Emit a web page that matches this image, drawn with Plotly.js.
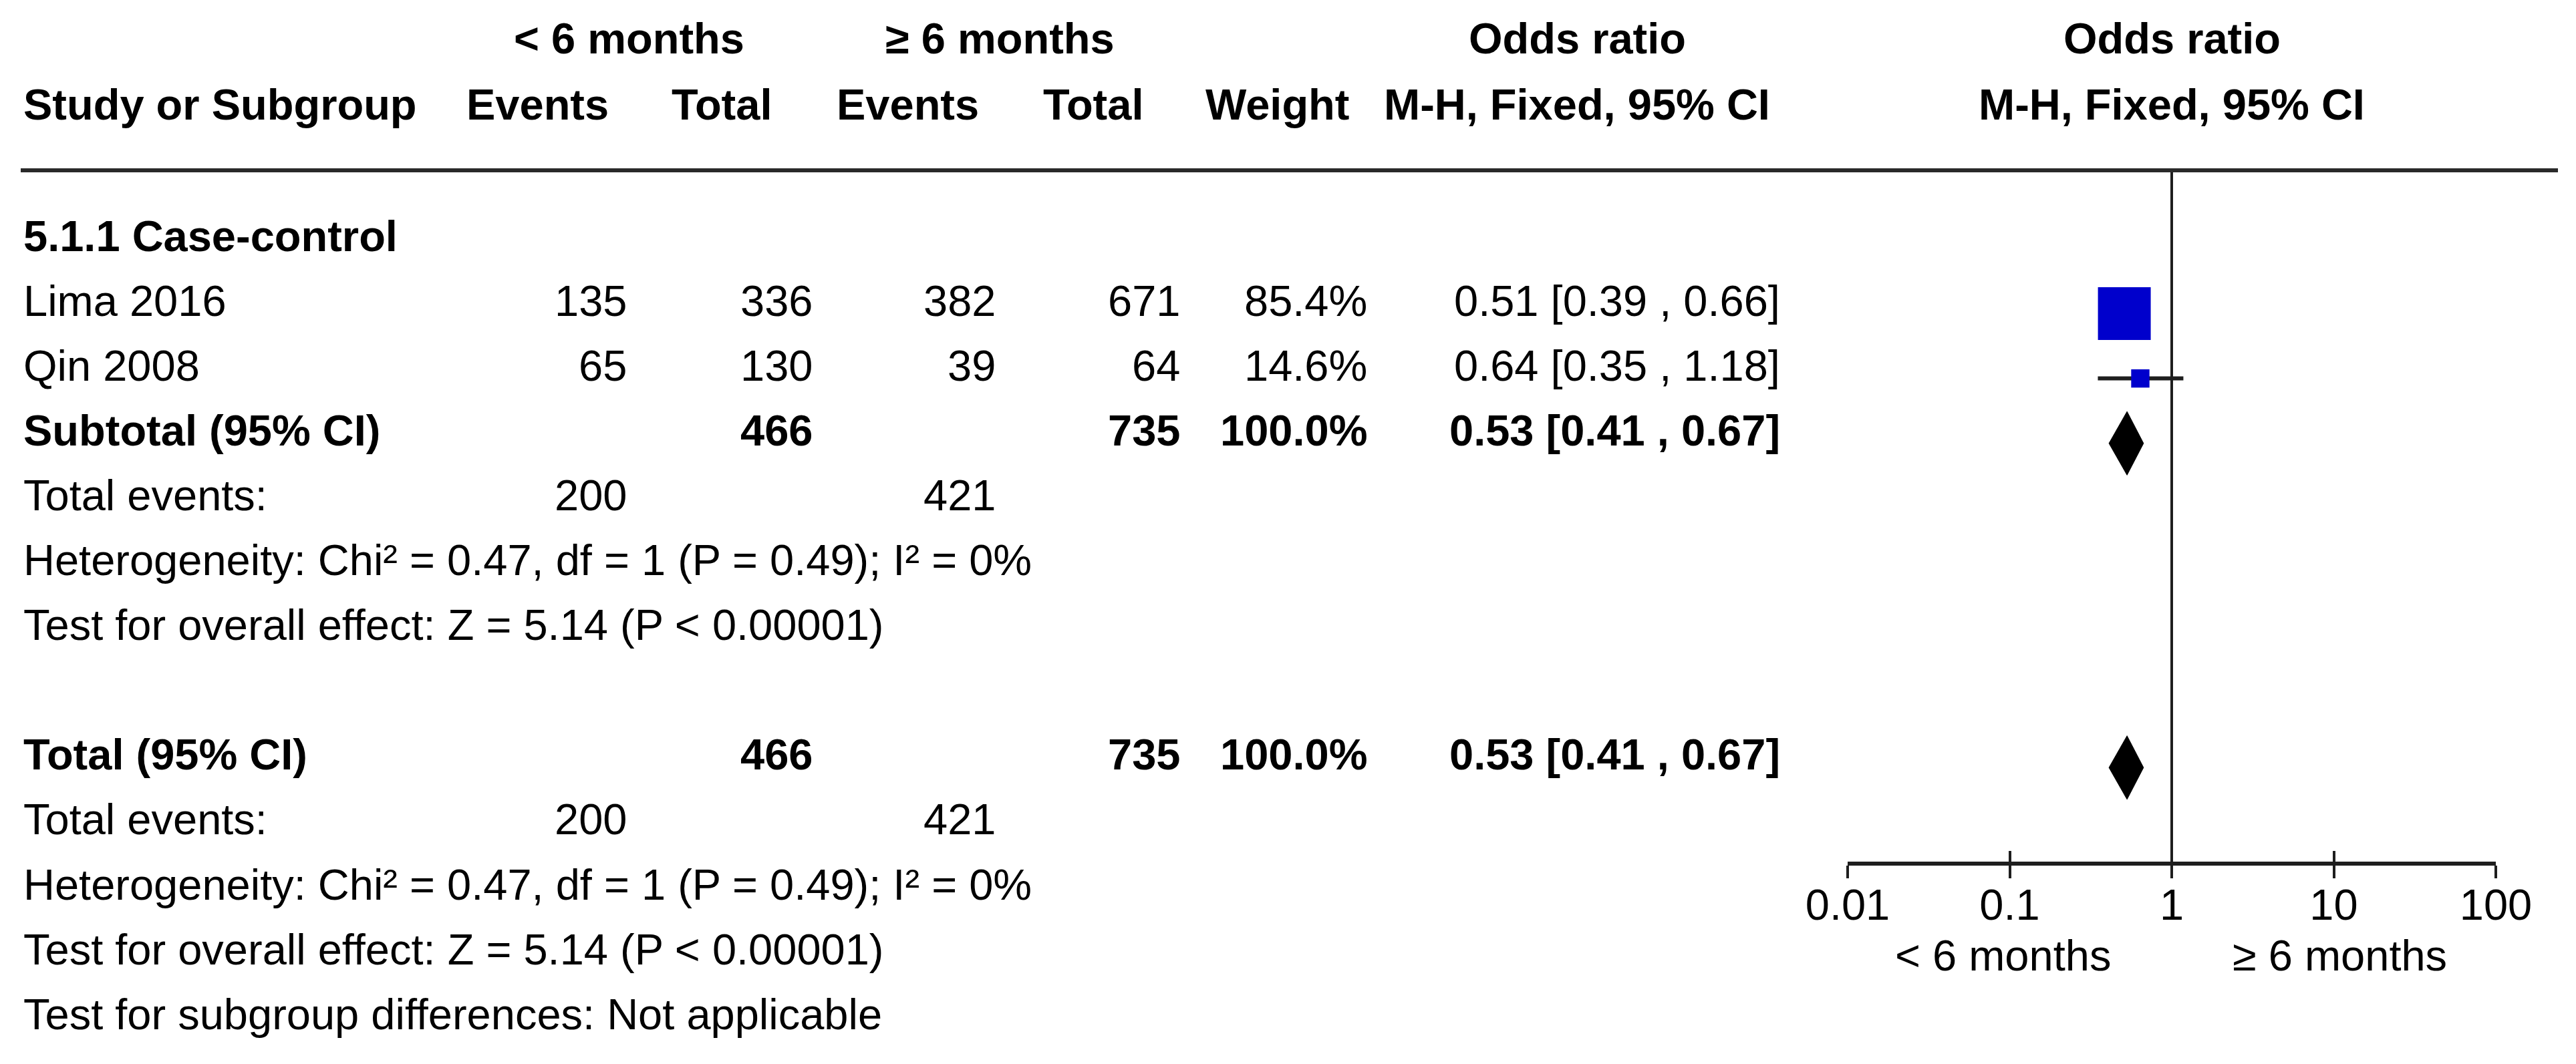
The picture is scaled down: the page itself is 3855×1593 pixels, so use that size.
<!DOCTYPE html>
<html>
<head>
<meta charset="utf-8">
<script src="https://cdn.plot.ly/plotly-3.0.1.min.js"></script>
<style>html,body{margin:0;padding:0;background:#fff;}#chart{width:3855px;height:1593px;}</style>
</head>
<body>
<div id="chart"></div>
<script>
// ---------- data ----------
const studies = ['Lima 2016', 'Qin 2008'];
const eventsLt6 = [135, 65];
const totalLt6 = [336, 130];
const eventsGe6 = [382, 39];
const totalGe6 = [671, 64];
const weights = [85.4, 14.6];
const orEst = [0.51, 0.64];
const orLow = [0.39, 0.35];
const orHigh = [0.66, 1.18];

const subgroupName = ['5.1.1 Case-control'];
const pooledEst = [0.53];
const pooledLow = [0.41];
const pooledHigh = [0.67];
const pooledWeight = [100.0];
const sumTotalLt6 = [466];
const sumTotalGe6 = [735];
const sumEventsLt6 = [200];
const sumEventsGe6 = [421];
const heterogeneityText = ['Heterogeneity: Chi² = 0.47, df = 1 (P = 0.49); I² = 0%'];
const overallEffectText = ['Test for overall effect: Z = 5.14 (P < 0.00001)'];
const subgroupDiffText = ['Test for subgroup differences: Not applicable'];

const groupLabels = ['< 6 months', '≥ 6 months'];
const tickValues = [0.01, 0.1, 1, 10, 100];
const tickLabels = ['0.01', '0.1', '1', '10', '100'];

// ---------- layout constants ----------
const W = 3855, H = 1593;
const rowY0 = 353, rowStep = 97.1;          // pixel centre of row 0 and row spacing
const kTop = -rowY0 / rowStep, kBottom = (H - rowY0) / rowStep;
const pxToK = px => (px - rowY0) / rowStep;
const FONT = 'Liberation Sans, Arial, Helvetica, sans-serif';
const FS = 65;
const markOff = 0.2;                         // marks sit slightly below text centre
const axisPx = 1293;
const kAxis = pxToK(axisPx);
const kLine = pxToK(255);
const textShift = 0.0;

const col = {
  name: 33 / W, ev1: 940 / W, tot1: 1218 / W, ev2: 1492 / W, tot2: 1768 / W,
  weight: 2048 / W, orText: 2666 / W,
  hEv1: 804 / W, hTot1: 1080 / W, hEv2: 1358 / W, hTot2: 1636 / W, hWeight: 1911 / W,
  hOr: 2360 / W, hPlot: 3250 / W, g1: 941 / W, g2: 1496 / W
};

const fmtOR = (e, l, h) => e.toFixed(2) + ' [' + l.toFixed(2) + ' , ' + h.toFixed(2) + ']';
const ann = [];
function txt(s, x, k, anchor, bold) {
  ann.push({
    text: bold ? '<b>' + s + '</b>' : s, x: x, xref: 'paper', y: k + textShift, yref: 'y',
    xanchor: anchor, yanchor: 'middle', showarrow: false,
    font: { family: FONT, size: FS, color: '#000' }
  });
}

// header rows
txt(groupLabels[0], col.g1, -3.04, 'center', true);
txt(groupLabels[1], col.g2, -3.04, 'center', true);
txt('Odds ratio', col.hOr, -3.04, 'center', true);
txt('Odds ratio', col.hPlot, -3.04, 'center', true);
txt('Study or Subgroup', col.name, -2.02, 'left', true);
txt('Events', col.hEv1, -2.02, 'center', true);
txt('Total', col.hTot1, -2.02, 'center', true);
txt('Events', col.hEv2, -2.02, 'center', true);
txt('Total', col.hTot2, -2.02, 'center', true);
txt('Weight', col.hWeight, -2.02, 'center', true);
txt('M-H, Fixed, 95% CI', col.hOr, -2.02, 'center', true);
txt('M-H, Fixed, 95% CI', col.hPlot, -2.02, 'center', true);

// subgroup block
txt(subgroupName[0], col.name, 0, 'left', true);
const studyRows = studies.map((s, i) => 1 + i);
studies.forEach((s, i) => {
  const k = studyRows[i];
  txt(s, col.name, k, 'left', false);
  txt(String(eventsLt6[i]), col.ev1, k, 'right', false);
  txt(String(totalLt6[i]), col.tot1, k, 'right', false);
  txt(String(eventsGe6[i]), col.ev2, k, 'right', false);
  txt(String(totalGe6[i]), col.tot2, k, 'right', false);
  txt(weights[i].toFixed(1) + '%', col.weight, k, 'right', false);
  txt(fmtOR(orEst[i], orLow[i], orHigh[i]), col.orText, k, 'right', false);
});
const summaryRows = [studies.length + 1, studies.length + 6];   // subtotal, total
const summaryNames = ['Subtotal (95% CI)', 'Total (95% CI)'];
summaryRows.forEach((k, j) => {
  txt(summaryNames[j], col.name, k, 'left', true);
  txt(String(sumTotalLt6[0]), col.tot1, k, 'right', true);
  txt(String(sumTotalGe6[0]), col.tot2, k, 'right', true);
  txt(pooledWeight[0].toFixed(1) + '%', col.weight, k, 'right', true);
  txt(fmtOR(pooledEst[0], pooledLow[0], pooledHigh[0]), col.orText, k, 'right', true);
  txt('Total events:', col.name, k + 1, 'left', false);
  txt(String(sumEventsLt6[0]), col.ev1, k + 1, 'right', false);
  txt(String(sumEventsGe6[0]), col.ev2, k + 1, 'right', false);
  txt(heterogeneityText[0], col.name, k + 2, 'left', false);
  txt(overallEffectText[0], col.name, k + 3, 'left', false);
});
txt(subgroupDiffText[0], col.name, summaryRows[1] + 4, 'left', false);

// axis direction labels
txt(groupLabels[0], 2997 / W, pxToK(1430), 'center', false);
txt(groupLabels[1], 3501 / W, pxToK(1430), 'center', false);

// ---------- traces ----------
const traces = [];
const LINEC = '#1e1e1e';
// null line (on overlay axis so it is drawn)
traces.push({ x: [1, 1], y: [kLine, kAxis], xaxis: 'x2', yaxis: 'y', mode: 'lines',
  line: { color: LINEC, width: 4 }, hoverinfo: 'skip' });
// CI lines
studies.forEach((s, i) => {
  traces.push({ x: [orLow[i], orHigh[i]], y: [studyRows[i] + markOff, studyRows[i] + markOff],
    mode: 'lines', line: { color: LINEC, width: 6 }, hoverinfo: 'skip' });
});
// squares sized by weight
const maxW = Math.max(...weights);
traces.push({
  x: orEst, y: studyRows.map(k => k + markOff), mode: 'markers',
  marker: { symbol: 'square', color: '#0000CC', opacity: 1,
    size: weights.map(w => 79 * Math.pow(w / maxW, 0.6)), line: { width: 0 } },
  hoverinfo: 'skip'
});
// diamonds
const dh = 0.49;
summaryRows.forEach(k => {
  const yc = k + markOff;
  traces.push({
    x: [pooledLow[0], pooledEst[0], pooledHigh[0], pooledEst[0], pooledLow[0]],
    y: [yc, yc - dh, yc, yc + dh, yc],
    mode: 'lines', fill: 'toself', fillcolor: '#000', line: { color: '#000', width: 1 }, hoverinfo: 'skip'
  });
});

const xdom = [2765 / W, 3735 / W];
const axPos = 1 - axisPx / H;
const layout = {
  width: W, height: H, margin: { l: 0, r: 0, t: 0, b: 0 },
  paper_bgcolor: '#fff', plot_bgcolor: 'rgba(0,0,0,0)', showlegend: false,
  font: { family: FONT, size: FS, color: '#000' },
  xaxis: {
    type: 'log', range: [-2, 2], domain: xdom, anchor: 'free', position: axPos,
    showline: true, linewidth: 6, linecolor: LINEC, ticks: 'outside', ticklen: 19, tickwidth: 4, tickcolor: LINEC,
    tickvals: tickValues, ticktext: tickLabels, tickfont: { family: FONT, size: FS, color: '#000' },
    ticklabelstandoff: -16,
    showgrid: false, zeroline: false, fixedrange: true
  },
  xaxis2: {
    type: 'log', range: [-2, 2], domain: xdom, anchor: 'free', position: axPos, overlaying: 'x',
    showline: false, ticks: 'inside', ticklen: 19, tickwidth: 4, tickcolor: LINEC,
    tickvals: tickValues, showticklabels: false, showgrid: false, zeroline: false, fixedrange: true
  },
  yaxis: { range: [kBottom, kTop], domain: [0, 1], visible: false, fixedrange: true, showgrid: false, zeroline: false },
  shapes: [{ type: 'line', xref: 'paper', yref: 'y', x0: 31 / W, x1: 3828 / W, y0: kLine, y1: kLine,
    line: { color: '#2a2a2a', width: 6 } }],
  annotations: ann
};
Plotly.newPlot('chart', traces, layout, { staticPlot: true, displayModeBar: false });
</script>
</body>
</html>
